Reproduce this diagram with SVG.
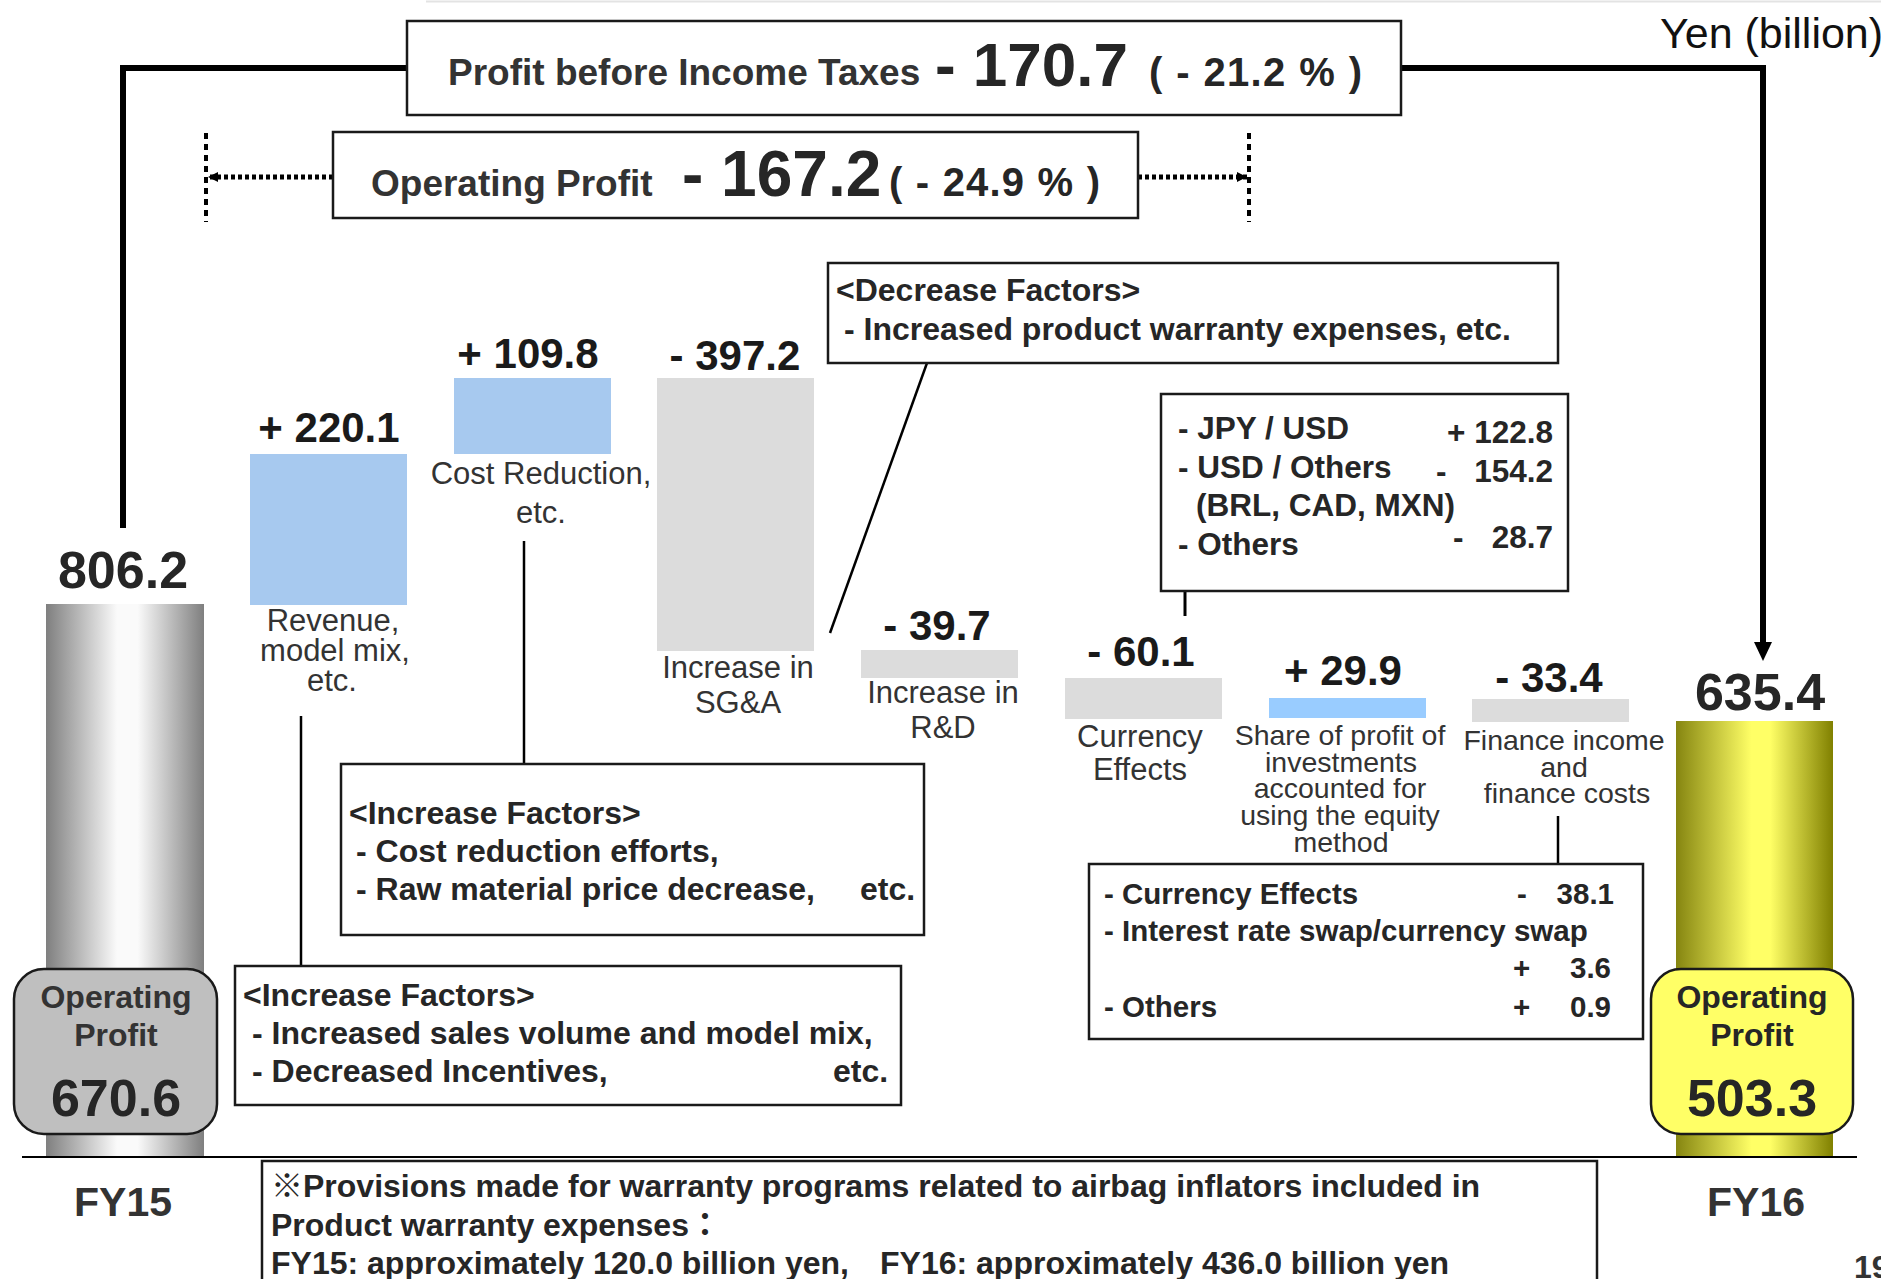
<svg xmlns="http://www.w3.org/2000/svg" width="1881" height="1279" viewBox="0 0 1881 1279">
<style>
text{font-family:"Liberation Sans",Arial,"Noto Sans CJK JP",sans-serif}
.b{font-weight:bold}
.mid{text-anchor:middle}
.end{text-anchor:end}
.box{fill:#fff;stroke:#1a1a1a;stroke-width:2.5}
.lbl{font-size:31px;fill:#333}
.lbs{font-size:28.5px;fill:#333}
.val{font-size:42px;font-weight:bold;fill:#1a1a1a}
.big{font-size:52px;font-weight:bold;fill:#262626}
.bt{font-size:32px;font-weight:bold;fill:#262626}
.cx{font-size:31.5px;font-weight:bold;fill:#262626}
.fx{font-size:29.5px;font-weight:bold;fill:#262626}
.hd{font-size:37px;font-weight:bold;fill:#333}
.conn{stroke:#000;stroke-width:2.5;fill:none}
.thick{stroke:#000;stroke-width:6;fill:none;stroke-linejoin:miter}
.dash{stroke:#000;stroke-width:4;stroke-dasharray:6 5;fill:none}
.dot{stroke:#000;stroke-width:5;stroke-dasharray:4 3;fill:none}
.blue{fill:#a7c9ef}
.grey{fill:#dcdcdc}
</style>
<defs>
<linearGradient id="gGray" x1="0" y1="0" x2="1" y2="0">
<stop offset="0" stop-color="#7f7f7f"/>
<stop offset="0.45" stop-color="#fafafa"/>
<stop offset="0.58" stop-color="#fafafa"/>
<stop offset="1" stop-color="#7f7f7f"/>
</linearGradient>
<linearGradient id="gYel" x1="0" y1="0" x2="1" y2="0">
<stop offset="0" stop-color="#858510"/>
<stop offset="0.48" stop-color="#ffff66"/>
<stop offset="0.6" stop-color="#ffff66"/>
<stop offset="1" stop-color="#808000"/>
</linearGradient>
<marker id="ah" viewBox="0 0 10 10" refX="10" refY="5" markerWidth="12" markerHeight="10" markerUnits="userSpaceOnUse" orient="auto">
<path d="M0,0 L10,5 L0,10 z" fill="#000"/>
</marker>
</defs>

<rect width="1881" height="1279" fill="#fff"/>
<line x1="426" y1="1.5" x2="1881" y2="1.5" stroke="#e3e3e3" stroke-width="2"/>

<text x="1660" y="48" style="font-size:43px;fill:#111">Yen (billion)</text>

<g id="connectors">
<polyline class="thick" points="123,528 123,68 407,68"/>
<polyline class="thick" points="1401,68 1763,68 1763,645"/>
<polygon points="1754,642 1772,642 1763,661" fill="#000"/>
<line class="dash" x1="206" y1="133" x2="206" y2="222"/>
<line class="dash" x1="1249" y1="133" x2="1249" y2="222"/>
<line class="dot" x1="333" y1="177" x2="208" y2="177" marker-end="url(#ah)"/>
<line class="dot" x1="1138" y1="177" x2="1247" y2="177" marker-end="url(#ah)"/>
<line class="conn" x1="301" y1="716" x2="301" y2="966"/>
<line class="conn" x1="524" y1="541" x2="524" y2="764"/>
<line class="conn" x1="830" y1="633" x2="927" y2="363"/>
<line class="conn" x1="1185" y1="591" x2="1185" y2="616" style="stroke-width:3"/>
<line class="conn" x1="1558" y1="816" x2="1558" y2="864"/>
</g>

<g id="pbit">
<rect class="box" x="407" y="21" width="994" height="94"/>
<text class="hd" x="448" y="85">Profit before Income Taxes</text>
<text class="b" x="935" y="86" style="font-size:62px;fill:#262626">- 170.7</text>
<text class="b" x="1149" y="86" textLength="213" lengthAdjust="spacing" style="font-size:40px;fill:#262626">( - 21.2 % )</text>
</g>

<g id="op-change">
<rect class="box" x="333" y="132" width="805" height="86"/>
<text class="hd" x="371" y="196">Operating Profit</text>
<text class="b" x="682" y="196" style="font-size:64px;fill:#262626">- 167.2</text>
<text class="b" x="889" y="196" textLength="211" lengthAdjust="spacing" style="font-size:40px;fill:#262626">( - 24.9 % )</text>
</g>

<g id="fy15">
<rect x="46" y="604" width="158" height="553" fill="url(#gGray)"/>
<text class="big mid" x="123" y="588">806.2</text>
<rect x="14" y="969" width="203" height="165" rx="30" fill="#bfbfbf" stroke="#1a1a1a" stroke-width="2.5"/>
<text class="b mid" x="116" y="1008" style="font-size:32px;fill:#333">Operating</text>
<text class="b mid" x="116" y="1046" style="font-size:32px;fill:#333">Profit</text>
<text class="big mid" x="116" y="1116">670.6</text>
<text class="b mid" x="123" y="1216" style="font-size:41px;fill:#333">FY15</text>
</g>

<g id="fy16">
<rect x="1676" y="721" width="157" height="436" fill="url(#gYel)"/>
<text class="big mid" x="1760" y="710">635.4</text>
<rect x="1651" y="969" width="202" height="165" rx="30" fill="#ffff66" stroke="#1a1a1a" stroke-width="2.5"/>
<text class="b mid" x="1752" y="1008" style="font-size:32px;fill:#262626">Operating</text>
<text class="b mid" x="1752" y="1046" style="font-size:32px;fill:#262626">Profit</text>
<text class="big mid" x="1752" y="1116">503.3</text>
<text class="b mid" x="1756" y="1216" style="font-size:41px;fill:#333">FY16</text>
</g>

<line x1="22" y1="1157" x2="1857" y2="1157" stroke="#000" stroke-width="2"/>

<g id="revenue">
<rect class="blue" x="250" y="454" width="157" height="151"/>
<text class="val mid" x="329" y="442">+ 220.1</text>
<text class="lbl mid" x="333" y="631">Revenue,</text>
<text class="lbl mid" x="335" y="661">model mix,</text>
<text class="lbl mid" x="332" y="691">etc.</text>
</g>

<g id="cost-reduction">
<rect class="blue" x="454" y="378" width="157" height="76"/>
<text class="val mid" x="528" y="368">+ 109.8</text>
<text class="lbl mid" x="541" y="484">Cost Reduction,</text>
<text class="lbl mid" x="541" y="523">etc.</text>
</g>

<g id="sga">
<rect class="grey" x="657" y="378" width="157" height="273"/>
<text class="val mid" x="735" y="370">- 397.2</text>
<text class="lbl mid" x="738" y="678">Increase in</text>
<text class="lbl mid" x="738" y="713">SG&amp;A</text>
</g>

<g id="rnd">
<rect class="grey" x="861" y="650" width="157" height="28"/>
<text class="val mid" x="937" y="640">- 39.7</text>
<text class="lbl mid" x="943" y="703">Increase in</text>
<text class="lbl mid" x="943" y="738">R&amp;D</text>
</g>

<g id="currency">
<rect class="grey" x="1065" y="678" width="157" height="41"/>
<text class="val mid" x="1141" y="666">- 60.1</text>
<text class="lbl mid" x="1140" y="747">Currency</text>
<text class="lbl mid" x="1140" y="780">Effects</text>
</g>

<g id="equity">
<rect x="1269" y="698" width="157" height="20" fill="#99ccff"/>
<text class="val mid" x="1343" y="685">+ 29.9</text>
<text class="lbs mid" x="1340" y="745">Share of profit of</text>
<text class="lbs mid" x="1341" y="772">investments</text>
<text class="lbs mid" x="1340" y="798">accounted for</text>
<text class="lbs mid" x="1340" y="825">using the equity</text>
<text class="lbs mid" x="1341" y="852">method</text>
</g>

<g id="finance">
<rect class="grey" x="1472" y="699" width="157" height="23"/>
<text class="val mid" x="1549" y="692">- 33.4</text>
<text class="lbs mid" x="1564" y="750">Finance income</text>
<text class="lbs mid" x="1564" y="777">and</text>
<text class="lbs mid" x="1567" y="803">finance costs</text>
</g>

<g id="decrease-factors">
<rect class="box" x="828" y="263" width="730" height="100"/>
<text class="bt" x="836" y="301">&lt;Decrease Factors&gt;</text>
<text class="bt" x="844" y="340">- Increased product warranty expenses, etc.</text>
</g>

<g id="cost-factors">
<rect class="box" x="341" y="764" width="583" height="171"/>
<text class="bt" x="349" y="824">&lt;Increase Factors&gt;</text>
<text class="bt" x="356" y="862">- Cost reduction efforts,</text>
<text class="bt" x="356" y="900">- Raw material price decrease,</text>
<text class="bt" x="860" y="900">etc.</text>
</g>

<g id="revenue-factors">
<rect class="box" x="235" y="966" width="666" height="139"/>
<text class="bt" x="243" y="1006">&lt;Increase Factors&gt;</text>
<text class="bt" x="252" y="1044">- Increased sales volume and model mix,</text>
<text class="bt" x="252" y="1082">- Decreased Incentives,</text>
<text class="bt" x="833" y="1082">etc.</text>
</g>

<g id="currency-detail">
<rect class="box" x="1161" y="394" width="407" height="197"/>
<text class="cx" x="1178" y="439">- JPY / USD</text>
<text class="cx end" x="1553" y="443">+ 122.8</text>
<text class="cx" x="1178" y="478">- USD / Others</text>
<text class="cx" x="1436" y="482">-</text>
<text class="cx end" x="1553" y="482">154.2</text>
<text class="cx" x="1196" y="516">(BRL, CAD, MXN)</text>
<text class="cx" x="1178" y="555">- Others</text>
<text class="cx" x="1453" y="548">-</text>
<text class="cx end" x="1553" y="548">28.7</text>
</g>

<g id="finance-detail">
<rect class="box" x="1089" y="864" width="554" height="175"/>
<text class="fx" x="1104" y="904">- Currency Effects</text>
<text class="fx" x="1517" y="904">-</text>
<text class="fx end" x="1614" y="904">38.1</text>
<text class="fx" x="1104" y="941">- Interest rate swap/currency swap</text>
<text class="fx" x="1513" y="978">+</text>
<text class="fx end" x="1611" y="978">3.6</text>
<text class="fx" x="1104" y="1017">- Others</text>
<text class="fx" x="1513" y="1017">+</text>
<text class="fx end" x="1611" y="1017">0.9</text>
</g>

<g id="footnote">
<rect class="box" x="262" y="1161" width="1335" height="140"/>
<text class="bt" x="271" y="1197">※Provisions made for warranty programs related to airbag inflators included in</text>
<text class="bt" x="271" y="1236">Product warranty expenses：</text>
<text class="bt" x="271" y="1274">FY15: approximately 120.0 billion yen,</text>
<text class="bt" x="880" y="1274">FY16: approximately 436.0 billion yen</text>
</g>

<text class="b" x="1854" y="1278" style="font-size:32px;fill:#333">19</text>
</svg>
